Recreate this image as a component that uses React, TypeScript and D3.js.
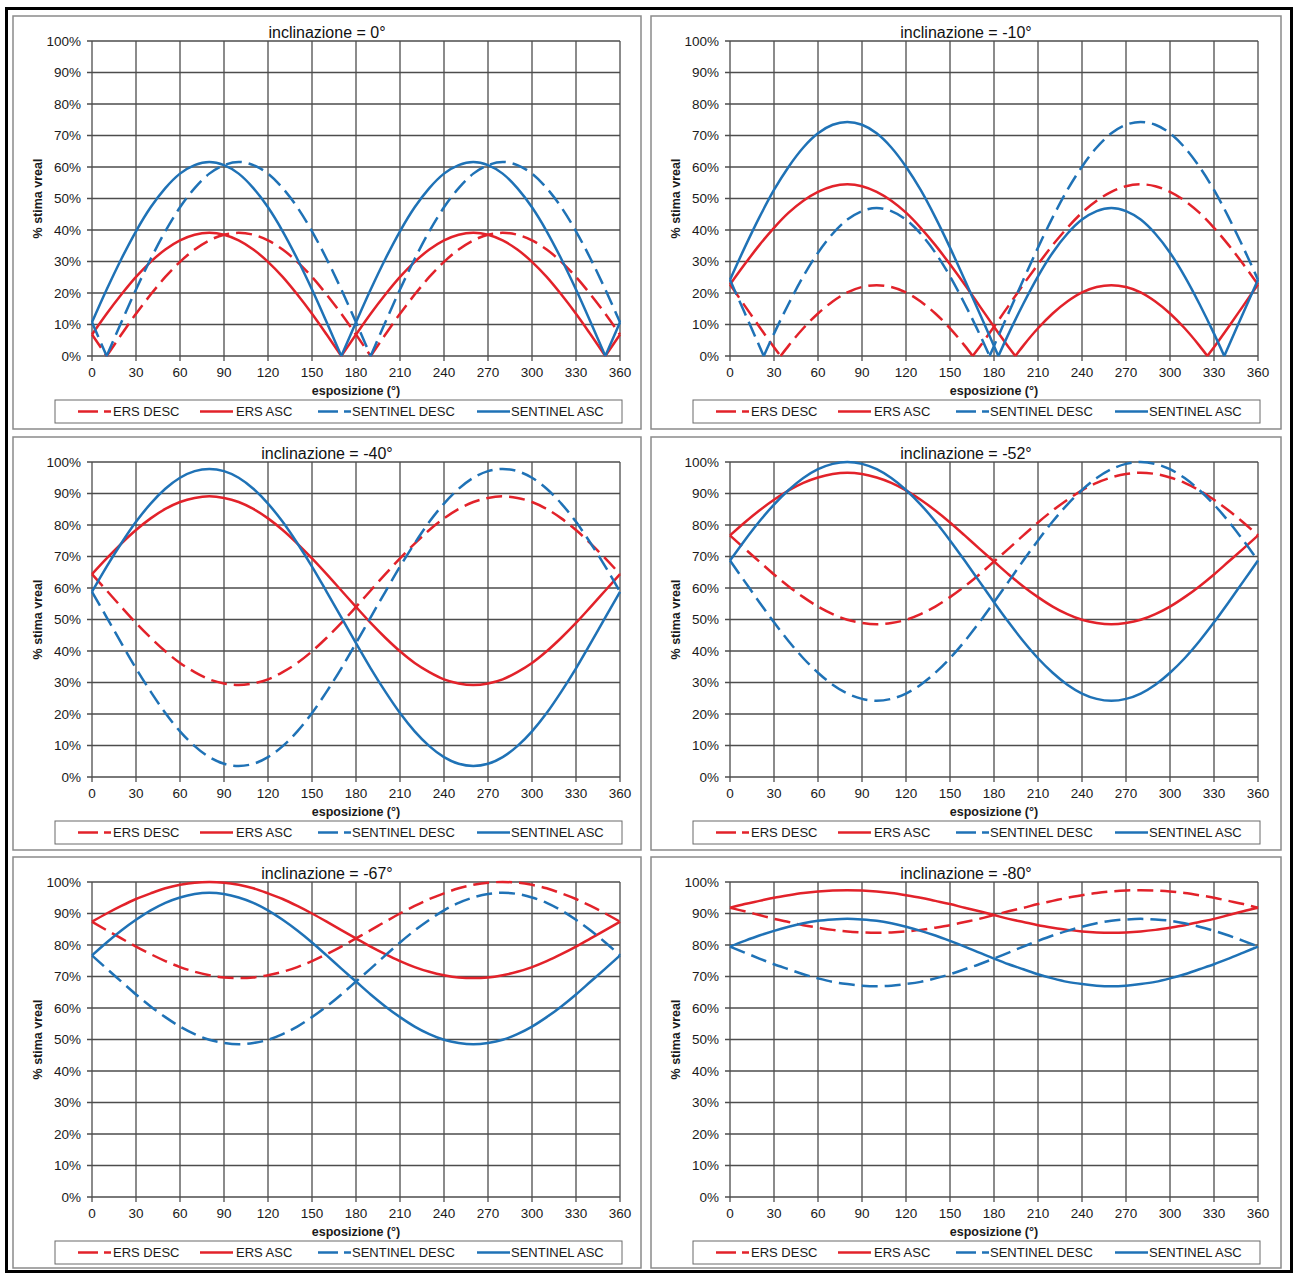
import React from "react";
import * as d3 from "d3";

// Aspect (esposizione) sample grid, degrees
const ASPECT = [0, 10, 20, 30, 40, 50, 60, 70, 80, 90, 100, 110, 120, 130, 140, 150, 160, 170, 180,
  190, 200, 210, 220, 230, 240, 250, 260, 270, 280, 290, 300, 310, 320, 330, 340, 350, 360];

const X_TICKS = [0, 30, 60, 90, 120, 150, 180, 210, 240, 270, 300, 330, 360];
const Y_TICKS = [0, 10, 20, 30, 40, 50, 60, 70, 80, 90, 100];

const TITLES = [
  "inclinazione = 0°",
  "inclinazione = -10°",
  "inclinazione = -40°",
  "inclinazione = -52°",
  "inclinazione = -67°",
  "inclinazione = -80°",
];

const LEGEND_NAMES = ["ERS DESC", "ERS ASC", "SENTINEL DESC", "SENTINEL ASC"];

// % of real velocity estimated, on the ASPECT grid
const ERS_DESC_0 = [6.8, 0, 6.8, 13.4, 19.5, 25.1, 29.9, 33.8, 36.7, 38.5, 39.1, 38.5, 36.7, 33.8, 29.9, 25.1, 19.5, 13.4, 6.8, 0, 6.8, 13.4, 19.5, 25.1, 29.9, 33.8, 36.7, 38.5, 39.1, 38.5, 36.7, 33.8, 29.9, 25.1, 19.5, 13.4, 6.8];
const ERS_ASC_0 = [6.8, 13.4, 19.5, 25.1, 29.9, 33.8, 36.7, 38.5, 39.1, 38.5, 36.7, 33.8, 29.9, 25.1, 19.5, 13.4, 6.8, 0, 6.8, 13.4, 19.5, 25.1, 29.9, 33.8, 36.7, 38.5, 39.1, 38.5, 36.7, 33.8, 29.9, 25.1, 19.5, 13.4, 6.8, 0, 6.8];
const SEN_DESC_0 = [10.7, 0, 10.7, 21.1, 30.8, 39.6, 47.2, 53.3, 57.9, 60.6, 61.6, 60.6, 57.9, 53.3, 47.2, 39.6, 30.8, 21.1, 10.7, 0, 10.7, 21.1, 30.8, 39.6, 47.2, 53.3, 57.9, 60.6, 61.6, 60.6, 57.9, 53.3, 47.2, 39.6, 30.8, 21.1, 10.7];
const SEN_ASC_0 = [10.7, 21.1, 30.8, 39.6, 47.2, 53.3, 57.9, 60.6, 61.6, 60.6, 57.9, 53.3, 47.2, 39.6, 30.8, 21.1, 10.7, 0, 10.7, 21.1, 30.8, 39.6, 47.2, 53.3, 57.9, 60.6, 61.6, 60.6, 57.9, 53.3, 47.2, 39.6, 30.8, 21.1, 10.7, 0, 10.7];

const ERS_DESC_M10 = [22.7, 16.0, 9.3, 2.8, 3.3, 8.8, 13.5, 17.3, 20.2, 21.9, 22.5, 21.9, 20.2, 17.3, 13.5, 8.8, 3.3, 2.8, 9.3, 16.0, 22.7, 29.1, 35.2, 40.7, 45.5, 49.3, 52.1, 53.9, 54.5, 53.9, 52.1, 49.3, 45.5, 40.7, 35.2, 29.1, 22.7];
const ERS_ASC_M10 = [22.7, 29.1, 35.2, 40.7, 45.5, 49.3, 52.1, 53.9, 54.5, 53.9, 52.1, 49.3, 45.5, 40.7, 35.2, 29.1, 22.7, 16.0, 9.3, 2.8, 3.3, 8.8, 13.5, 17.3, 20.2, 21.9, 22.5, 21.9, 20.2, 17.3, 13.5, 8.8, 3.3, 2.8, 9.3, 16.0, 22.7];
const SEN_DESC_M10 = [24.2, 13.7, 3.2, 7.1, 16.6, 25.3, 32.8, 38.8, 43.3, 46.0, 47.0, 46.0, 43.3, 38.8, 32.8, 25.3, 16.6, 7.1, 3.2, 13.7, 24.2, 34.4, 44.0, 52.7, 60.1, 66.2, 70.7, 73.4, 74.3, 73.4, 70.7, 66.2, 60.1, 52.7, 44.0, 34.4, 24.2];
const SEN_ASC_M10 = [24.2, 34.4, 44.0, 52.7, 60.1, 66.2, 70.7, 73.4, 74.3, 73.4, 70.7, 66.2, 60.1, 52.7, 44.0, 34.4, 24.2, 13.7, 3.2, 7.1, 16.6, 25.3, 32.8, 38.8, 43.3, 46.0, 47.0, 46.0, 43.3, 38.8, 32.8, 25.3, 16.6, 7.1, 3.2, 13.7, 24.2];
// aspects where the -10° curves touch 0%
const ERS_DESC_M10_ZERO = [34.5, 165.5];
const ERS_ASC_M10_ZERO = [194.5, 325.5];
const SEN_DESC_M10_ZERO = [23.0, 177.0];
const SEN_ASC_M10_ZERO = [183.0, 337.0];

const ERS_DESC_M40 = [64.4, 59.2, 54.0, 48.9, 44.2, 39.9, 36.2, 33.3, 31.0, 29.7, 29.2, 29.7, 31.0, 33.3, 36.2, 39.9, 44.2, 48.9, 54.0, 59.2, 64.4, 69.4, 74.1, 78.4, 82.1, 85.1, 87.3, 88.6, 89.1, 88.6, 87.3, 85.1, 82.1, 78.4, 74.1, 69.4, 64.4];
const ERS_ASC_M40 = [64.4, 69.4, 74.1, 78.4, 82.1, 85.1, 87.3, 88.6, 89.1, 88.6, 87.3, 85.1, 82.1, 78.4, 74.1, 69.4, 64.4, 59.2, 54.0, 48.9, 44.2, 39.9, 36.2, 33.3, 31.0, 29.7, 29.2, 29.7, 31.0, 33.3, 36.2, 39.9, 44.2, 48.9, 54.0, 59.2, 64.4];
const SEN_DESC_M40 = [58.8, 50.7, 42.5, 34.5, 27.1, 20.3, 14.5, 9.8, 6.3, 4.2, 3.5, 4.2, 6.3, 9.8, 14.5, 20.3, 27.1, 34.5, 42.5, 50.7, 58.8, 66.8, 74.2, 81.0, 86.8, 91.5, 95.0, 97.1, 97.8, 97.1, 95.0, 91.5, 86.8, 81.0, 74.2, 66.8, 58.8];
const SEN_ASC_M40 = [58.8, 66.8, 74.2, 81.0, 86.8, 91.5, 95.0, 97.1, 97.8, 97.1, 95.0, 91.5, 86.8, 81.0, 74.2, 66.8, 58.8, 50.7, 42.5, 34.5, 27.1, 20.3, 14.5, 9.8, 6.3, 4.2, 3.5, 4.2, 6.3, 9.8, 14.5, 20.3, 27.1, 34.5, 42.5, 50.7, 58.8];

const ERS_DESC_M52 = [76.7, 72.5, 68.4, 64.3, 60.5, 57.1, 54.1, 51.7, 49.9, 48.9, 48.5, 48.9, 49.9, 51.7, 54.1, 57.1, 60.5, 64.3, 68.4, 72.5, 76.7, 80.8, 84.6, 88.0, 91.0, 93.4, 95.1, 96.2, 96.6, 96.2, 95.1, 93.4, 91.0, 88.0, 84.6, 80.8, 76.7];
const ERS_ASC_M52 = [76.7, 80.8, 84.6, 88.0, 91.0, 93.4, 95.1, 96.2, 96.6, 96.2, 95.1, 93.4, 91.0, 88.0, 84.6, 80.8, 76.7, 72.5, 68.4, 64.3, 60.5, 57.1, 54.1, 51.7, 49.9, 48.9, 48.5, 48.9, 49.9, 51.7, 54.1, 57.1, 60.5, 64.3, 68.4, 72.5, 76.7];
const SEN_DESC_M52 = [68.7, 62.1, 55.5, 49.1, 43.1, 37.7, 33.1, 29.3, 26.5, 24.8, 24.2, 24.8, 26.5, 29.3, 33.1, 37.7, 43.1, 49.1, 55.5, 62.1, 68.7, 75.1, 81.1, 86.5, 91.1, 94.9, 97.7, 99.4, 100.0, 99.4, 97.7, 94.9, 91.1, 86.5, 81.1, 75.1, 68.7];
const SEN_ASC_M52 = [68.7, 75.1, 81.1, 86.5, 91.1, 94.9, 97.7, 99.4, 100.0, 99.4, 97.7, 94.9, 91.1, 86.5, 81.1, 75.1, 68.7, 62.1, 55.5, 49.1, 43.1, 37.7, 33.1, 29.3, 26.5, 24.8, 24.2, 24.8, 26.5, 29.3, 33.1, 37.7, 43.1, 49.1, 55.5, 62.1, 68.7];

const ERS_DESC_M67 = [87.4, 84.7, 82.1, 79.5, 77.1, 74.9, 73.0, 71.5, 70.4, 69.7, 69.5, 69.7, 70.4, 71.5, 73.0, 74.9, 77.1, 79.5, 82.1, 84.7, 87.4, 90.0, 92.4, 94.6, 96.4, 98.0, 99.1, 99.8, 100.0, 99.8, 99.1, 98.0, 96.4, 94.6, 92.4, 90.0, 87.4];
const ERS_ASC_M67 = [87.4, 90.0, 92.4, 94.6, 96.4, 98.0, 99.1, 99.8, 100.0, 99.8, 99.1, 98.0, 96.4, 94.6, 92.4, 90.0, 87.4, 84.7, 82.1, 79.5, 77.1, 74.9, 73.0, 71.5, 70.4, 69.7, 69.5, 69.7, 70.4, 71.5, 73.0, 74.9, 77.1, 79.5, 82.1, 84.7, 87.4];
const SEN_DESC_M67 = [76.7, 72.5, 68.4, 64.3, 60.5, 57.1, 54.1, 51.7, 49.9, 48.9, 48.5, 48.9, 49.9, 51.7, 54.1, 57.1, 60.5, 64.3, 68.4, 72.5, 76.7, 80.8, 84.6, 88.0, 91.0, 93.4, 95.1, 96.2, 96.6, 96.2, 95.1, 93.4, 91.0, 88.0, 84.6, 80.8, 76.7];
const SEN_ASC_M67 = [76.7, 80.8, 84.6, 88.0, 91.0, 93.4, 95.1, 96.2, 96.6, 96.2, 95.1, 93.4, 91.0, 88.0, 84.6, 80.8, 76.7, 72.5, 68.4, 64.3, 60.5, 57.1, 54.1, 51.7, 49.9, 48.9, 48.5, 48.9, 49.9, 51.7, 54.1, 57.1, 60.5, 64.3, 68.4, 72.5, 76.7];

const ERS_DESC_M80 = [91.8, 90.7, 89.5, 88.3, 87.3, 86.3, 85.5, 84.8, 84.3, 84.0, 83.9, 84.0, 84.3, 84.8, 85.5, 86.3, 87.3, 88.3, 89.5, 90.7, 91.8, 93.0, 94.0, 95.0, 95.8, 96.5, 97.0, 97.3, 97.4, 97.3, 97.0, 96.5, 95.8, 95.0, 94.0, 93.0, 91.8];
const ERS_ASC_M80 = [91.8, 93.0, 94.0, 95.0, 95.8, 96.5, 97.0, 97.3, 97.4, 97.3, 97.0, 96.5, 95.8, 95.0, 94.0, 93.0, 91.8, 90.7, 89.5, 88.3, 87.3, 86.3, 85.5, 84.8, 84.3, 84.0, 83.9, 84.0, 84.3, 84.8, 85.5, 86.3, 87.3, 88.3, 89.5, 90.7, 91.8];
const SEN_DESC_M80 = [79.5, 77.6, 75.7, 73.9, 72.3, 70.7, 69.4, 68.3, 67.6, 67.1, 66.9, 67.1, 67.6, 68.3, 69.4, 70.7, 72.3, 73.9, 75.7, 77.6, 79.5, 81.3, 83.0, 84.5, 85.8, 86.9, 87.7, 88.1, 88.3, 88.1, 87.7, 86.9, 85.8, 84.5, 83.0, 81.3, 79.5];
const SEN_ASC_M80 = [79.5, 81.3, 83.0, 84.5, 85.8, 86.9, 87.7, 88.1, 88.3, 88.1, 87.7, 86.9, 85.8, 84.5, 83.0, 81.3, 79.5, 77.6, 75.7, 73.9, 72.3, 70.7, 69.4, 68.3, 67.6, 67.1, 66.9, 67.1, 67.6, 68.3, 69.4, 70.7, 72.3, 73.9, 75.7, 77.6, 79.5];

const RED = "#e2222a";
const BLUE = "#1f72b6";
const GRID = "#4d4d4d";
const FONT = "'Liberation Sans', Arial, Helvetica, sans-serif";
const DASH = "16,7";

// series order = legend order (ERS DESC, ERS ASC, SENTINEL DESC, SENTINEL ASC)
const STYLES = [
  { color: RED, dash: true },
  { color: RED, dash: false },
  { color: BLUE, dash: true },
  { color: BLUE, dash: false },
];

type Line = { values: number[]; zeros: number[] };

const PANEL_LINES: Line[][] = [
  [
    { values: ERS_DESC_0, zeros: [] },
    { values: ERS_ASC_0, zeros: [] },
    { values: SEN_DESC_0, zeros: [] },
    { values: SEN_ASC_0, zeros: [] },
  ],
  [
    { values: ERS_DESC_M10, zeros: ERS_DESC_M10_ZERO },
    { values: ERS_ASC_M10, zeros: ERS_ASC_M10_ZERO },
    { values: SEN_DESC_M10, zeros: SEN_DESC_M10_ZERO },
    { values: SEN_ASC_M10, zeros: SEN_ASC_M10_ZERO },
  ],
  [
    { values: ERS_DESC_M40, zeros: [] },
    { values: ERS_ASC_M40, zeros: [] },
    { values: SEN_DESC_M40, zeros: [] },
    { values: SEN_ASC_M40, zeros: [] },
  ],
  [
    { values: ERS_DESC_M52, zeros: [] },
    { values: ERS_ASC_M52, zeros: [] },
    { values: SEN_DESC_M52, zeros: [] },
    { values: SEN_ASC_M52, zeros: [] },
  ],
  [
    { values: ERS_DESC_M67, zeros: [] },
    { values: ERS_ASC_M67, zeros: [] },
    { values: SEN_DESC_M67, zeros: [] },
    { values: SEN_ASC_M67, zeros: [] },
  ],
  [
    { values: ERS_DESC_M80, zeros: [] },
    { values: ERS_ASC_M80, zeros: [] },
    { values: SEN_DESC_M80, zeros: [] },
    { values: SEN_ASC_M80, zeros: [] },
  ],
];

// Split a |.|-shaped curve at its 0% cusps so each arc is smoothed on its own
function segments(line: Line): [number, number][][] {
  const pts: [number, number][] = ASPECT.map((a, i) => [a, line.values[i]] as [number, number])
    .concat(line.zeros.map((z) => [z, 0] as [number, number]));
  pts.sort((p, q) => p[0] - q[0]);
  const segs: [number, number][][] = [];
  let cur: [number, number][] = [];
  pts.forEach((p, i) => {
    cur.push(p);
    if (p[1] === 0 && i > 0 && i < pts.length - 1) {
      segs.push(cur);
      cur = [p];
    }
  });
  segs.push(cur);
  return segs;
}

const PLOT = { left: 79, right: 607, top: 25, bottom: 340 };
const LEGEND = { left: 42, right: 609, top: 384, bottom: 407 };
const LEGEND_SAMPLE_X = [65, 187, 305, 464];
const LEGEND_TEXT_X = [100, 223, 339, 498];

function Panel({ x, y, w, h, title, lines }: { x: number; y: number; w: number; h: number; title: string; lines: Line[] }) {
  const xs = d3.scaleLinear().domain([0, 360]).range([PLOT.left, PLOT.right]);
  const ys = d3.scaleLinear().domain([0, 100]).range([PLOT.bottom, PLOT.top]);
  const gen = d3
    .line<[number, number]>()
    .x((d) => xs(d[0]))
    .y((d) => ys(d[1]))
    .curve(d3.curveMonotoneX);

  return (
    <g transform={`translate(${x},${y})`}>
      <rect x={0} y={0} width={w} height={h} fill="#fff" stroke="#8a8a8a" strokeWidth={1.5} />
      <text x={w / 2} y={21.5} textAnchor="middle" fontSize={16} fontFamily={FONT} fill="#111">
        {title}
      </text>

      {/* grid */}
      {Y_TICKS.map((t) => (
        <line key={"gy" + t} x1={PLOT.left - 5} x2={PLOT.right} y1={ys(t)} y2={ys(t)} stroke={GRID} strokeWidth={1.3} />
      ))}
      {X_TICKS.map((t) => (
        <line key={"gx" + t} x1={xs(t)} x2={xs(t)} y1={PLOT.top} y2={PLOT.bottom + 5} stroke={GRID} strokeWidth={1.3} />
      ))}

      {/* tick labels */}
      {Y_TICKS.map((t) => (
        <text key={"ly" + t} x={PLOT.left - 11} y={ys(t)} dy="0.36em" textAnchor="end" fontSize={13.5} fontFamily={FONT} fill="#1a1a1a">
          {t + "%"}
        </text>
      ))}
      {X_TICKS.map((t) => (
        <text key={"lx" + t} x={xs(t)} y={PLOT.bottom + 21} textAnchor="middle" fontSize={13.5} fontFamily={FONT} fill="#1a1a1a">
          {t}
        </text>
      ))}

      {/* axis titles */}
      <text x={(PLOT.left + PLOT.right) / 2} y={PLOT.bottom + 39} textAnchor="middle" fontSize={12.5} fontWeight="bold" fontFamily={FONT} fill="#1a1a1a">
        esposizione (°)
      </text>
      <text transform={`translate(29,${(PLOT.top + PLOT.bottom) / 2}) rotate(-90)`} textAnchor="middle" fontSize={12.5} fontWeight="bold" fontFamily={FONT} fill="#1a1a1a">
        % stima vreal
      </text>

      {/* curves */}
      {lines.map((ln, i) => (
        <path
          key={"c" + i}
          d={segments(ln).map((s) => gen(s)).join("")}
          fill="none"
          stroke={STYLES[i].color}
          strokeWidth={2.5}
          strokeDasharray={STYLES[i].dash ? DASH : undefined}
          strokeLinejoin="round"
        />
      ))}

      {/* legend */}
      <rect
        x={LEGEND.left}
        y={LEGEND.top}
        width={LEGEND.right - LEGEND.left}
        height={LEGEND.bottom - LEGEND.top}
        fill="#fff"
        stroke="#6a6a6a"
        strokeWidth={1}
      />
      {LEGEND_NAMES.map((name, i) => {
        const cy = (LEGEND.top + LEGEND.bottom) / 2;
        return (
          <g key={"lg" + i}>
            <line
              x1={LEGEND_SAMPLE_X[i]}
              x2={LEGEND_SAMPLE_X[i] + 33}
              y1={cy}
              y2={cy}
              stroke={STYLES[i].color}
              strokeWidth={2.5}
              strokeDasharray={STYLES[i].dash ? "20,6" : undefined}
            />
            <text x={LEGEND_TEXT_X[i]} y={cy} dy="0.36em" fontSize={13} fontFamily={FONT} fill="#1a1a1a">
              {name}
            </text>
          </g>
        );
      })}
    </g>
  );
}

const COL_X = [13, 651];
const COL_W = [628, 630];
const ROW_Y = [16, 437, 857];
const ROW_H = [413, 413, 411];

export default function App() {
  return (
    <svg
      width={1295}
      height={1274}
      viewBox="0 0 1295 1274"
      style={{ position: "absolute", left: 0, top: 0, display: "block", background: "#fff" }}
    >
      <rect x={0} y={0} width={1295} height={1274} fill="#fff" />
      {TITLES.map((t, i) => {
        const col = i % 2;
        const row = Math.floor(i / 2);
        return (
          <Panel key={t} x={COL_X[col]} y={ROW_Y[row]} w={COL_W[col]} h={ROW_H[row]} title={t} lines={PANEL_LINES[i]} />
        );
      })}
      <rect x={6.5} y={8.5} width={1285} height={1263} fill="none" stroke="#000" strokeWidth={3} />
    </svg>
  );
}
